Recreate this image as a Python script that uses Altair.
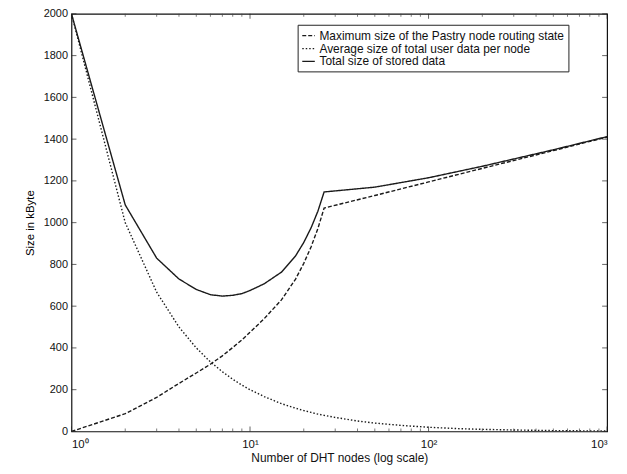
import altair as alt
import pandas as pd

series_names = [
    "Maximum size of the Pastry node routing state",
    "Average size of total user data per node",
    "Total size of stored data",
]

routing_n = [1, 2, 3, 4, 5, 6, 7, 8, 9, 10, 12, 15, 18, 20, 22, 24, 26, 50, 100, 200, 500, 1000]
routing_kb = [0, 85, 163, 230, 280, 322, 362, 402, 438, 475, 540, 630, 730, 805, 885, 972, 1070,
              1130, 1195, 1260, 1345, 1410]

avg_n = [1, 2, 3, 4, 5, 6, 7, 8, 9, 10, 12, 15, 18, 20, 22, 24, 26, 30, 40, 50, 70, 100, 150,
         200, 300, 500, 700, 1000]
avg_kb = [2000, 1000, 667, 500, 400, 333, 286, 250, 222, 200, 167, 133, 111, 100, 91, 83, 77, 67,
          50, 40, 29, 20, 13, 10, 7, 4, 3, 2]

total_n = [1, 2, 3, 4, 5, 6, 7, 8, 9, 10, 12, 15, 18, 20, 22, 24, 26, 50, 100, 200, 500, 1000]
total_kb = [2000, 1085, 830, 730, 680, 655, 648, 652, 660, 675, 707, 763, 841, 905, 976, 1055,
            1147, 1170, 1215, 1270, 1349, 1412]

x_major = [1, 10, 100, 1000]
x_minor = [2, 3, 4, 5, 6, 7, 8, 9, 20, 30, 40, 50, 60, 70, 80, 90,
           200, 300, 400, 500, 600, 700, 800, 900]
y_ticks = [0, 200, 400, 600, 800, 1000, 1200, 1400, 1600, 1800, 2000]

rows = []
for n, v in zip(routing_n, routing_kb):
    rows.append({"series": series_names[0], "n": n, "kb": v})
for n, v in zip(avg_n, avg_kb):
    rows.append({"series": series_names[1], "n": n, "kb": v})
for n, v in zip(total_n, total_kb):
    rows.append({"series": series_names[2], "n": n, "kb": v})
df = pd.DataFrame(rows)

W, H = 540, 421
FONT = "Liberation Sans"
TXT = "#111111"

xscale = alt.Scale(type="log", domain=[1, 1000], nice=False)
yscale = alt.Scale(domain=[0, 2000], nice=False)

sup = "{'0':'⁰','1':'¹','2':'²','3':'³'}"
xaxis = alt.Axis(
    title="Number of DHT nodes (log scale)",
    values=x_major,
    labelExpr="'10' + " + sup + "[format(log(datum.value)/log(10), '.0f')]",
    ticks=False, domain=False, grid=False,
    labelFont=FONT, labelFontSize=11.5, labelPadding=7, labelColor=TXT,
    titleFont=FONT, titleFontSize=12, titleFontWeight="normal", titlePadding=3, titleColor=TXT,
)
yaxis = alt.Axis(
    title="Size in kByte",
    values=y_ticks,
    format="d",
    ticks=False, domain=False, grid=False,
    labelFont=FONT, labelFontSize=11, labelPadding=4, labelColor=TXT,
    titleFont=FONT, titleFontSize=11.5, titleFontWeight="normal", titlePadding=8, titleColor="#000000",
)

lines = alt.Chart(df).mark_line(strokeWidth=1.4, color="#1a1a1a", clip=True).encode(
    x=alt.X("n:Q", scale=xscale, axis=xaxis),
    y=alt.Y("kb:Q", scale=yscale, axis=yaxis),
    strokeDash=alt.StrokeDash(
        "series:N",
        scale=alt.Scale(domain=series_names, range=[[4, 2], [1.5, 2], [1, 0]]),
        legend=alt.Legend(
            title=None, orient="none", legendX=228, legendY=11,
            strokeColor="#222", fillColor="white", padding=4, cornerRadius=0,
            labelFont=FONT, labelFontSize=12, labelColor=TXT, labelLimit=400,
            symbolType="stroke", symbolSize=160, symbolStrokeWidth=1.3,
            symbolStrokeColor="#1a1a1a", rowPadding=0, labelOffset=4,
        ),
    ),
    order=alt.Order("n:Q"),
)

ydf = pd.DataFrame({"v": y_ticks})
xmaj = pd.DataFrame({"v": x_major})
xmin = pd.DataFrame({"v": x_minor})

yt_left = alt.Chart(ydf).mark_tick(orient="horizontal", size=5, thickness=1, color="#222").encode(
    y=alt.Y("v:Q", scale=yscale), x=alt.value(2.5))
yt_right = alt.Chart(ydf).mark_tick(orient="horizontal", size=5, thickness=1, color="#222").encode(
    y=alt.Y("v:Q", scale=yscale), x=alt.value(W - 2.5))
xt_bot = alt.Chart(xmaj).mark_tick(orient="vertical", size=5, thickness=1, color="#222").encode(
    x=alt.X("v:Q", scale=xscale), y=alt.value(H - 2.5))
xt_top = alt.Chart(xmaj).mark_tick(orient="vertical", size=5, thickness=1, color="#222").encode(
    x=alt.X("v:Q", scale=xscale), y=alt.value(2.5))
xm_bot = alt.Chart(xmin).mark_tick(orient="vertical", size=3, thickness=1, color="#444").encode(
    x=alt.X("v:Q", scale=xscale), y=alt.value(H - 1.5))
xm_top = alt.Chart(xmin).mark_tick(orient="vertical", size=3, thickness=1, color="#444").encode(
    x=alt.X("v:Q", scale=xscale), y=alt.value(1.5))

chart = alt.layer(lines, yt_left, yt_right, xt_bot, xt_top, xm_bot, xm_top).properties(
    width=W, height=H,
    autosize=alt.AutoSizeParams(type="none"),
    padding={"left": 64, "top": 4, "right": 12, "bottom": 40},
    background="white",
).configure_view(stroke="#111", strokeWidth=1.2)

chart.save("out.html", embed_options={"renderer": "svg", "actions": False})
